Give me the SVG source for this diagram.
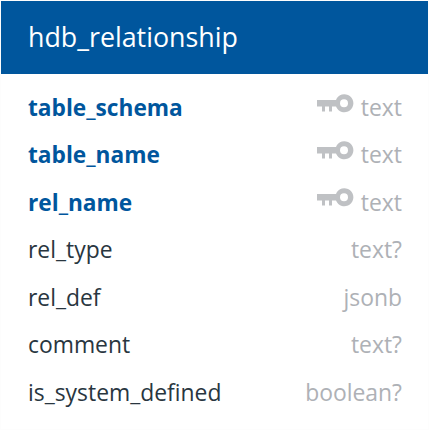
<svg xmlns="http://www.w3.org/2000/svg" width="429" height="430" viewBox="0 0 429 430">
<defs>
<style>
text{font-family:"Open Sans","Noto Sans",sans-serif;font-size:22.9px}
.n{fill:#29363f}
.p{fill:#00569d;font-weight:700;font-size:22.7px}
.t{fill:#aeb1b6;text-anchor:end}
.h{fill:#fff;font-size:26.8px}
</style>
<g id="key"><path fill="#bfc1c4" d="M0 3H19A9 9 0 1 1 19 9.500H15V14.500H12V9.500H8V14.500H5V9.500H0Z"/><circle cx="27" cy="6.200" r="4" fill="#fff"/></g>
</defs>
<rect width="429" height="430" fill="#fdfdfd"/>
<rect x="1" y="74" width="427" height="355" fill="#fff"/>
<g id="header"><rect x="1" y="1" width="427" height="73" fill="#00569d"/><text class="h" x="28" y="46.800">hdb_relationship</text></g>
<g id="row-table_schema"><text class="p" x="28" y="116">table_schema</text><use href="#key" x="317" y="97"/><text class="t" x="402" y="116">text</text></g>
<g id="row-table_name"><text class="p" x="28" y="163">table_name</text><use href="#key" x="317" y="144"/><text class="t" x="402" y="163">text</text></g>
<g id="row-rel_name"><text class="p" x="28" y="210.500">rel_name</text><use href="#key" x="317" y="191"/><text class="t" x="402" y="210.500">text</text></g>
<g id="row-rel_type"><text class="n" x="28" y="257.700">rel_type</text><text class="t" x="402" y="257.700">text?</text></g>
<g id="row-rel_def"><text class="n" x="28" y="305.500">rel_def</text><text class="t" x="402" y="305.500">jsonb</text></g>
<g id="row-comment"><text class="n" x="28" y="352.700">comment</text><text class="t" x="402" y="352.700">text?</text></g>
<g id="row-is_system_defined"><text class="n" x="28" y="400.500">is_system_defined</text><text class="t" x="402" y="400.500">boolean?</text></g>
<g id="connectors"/>
</svg>
